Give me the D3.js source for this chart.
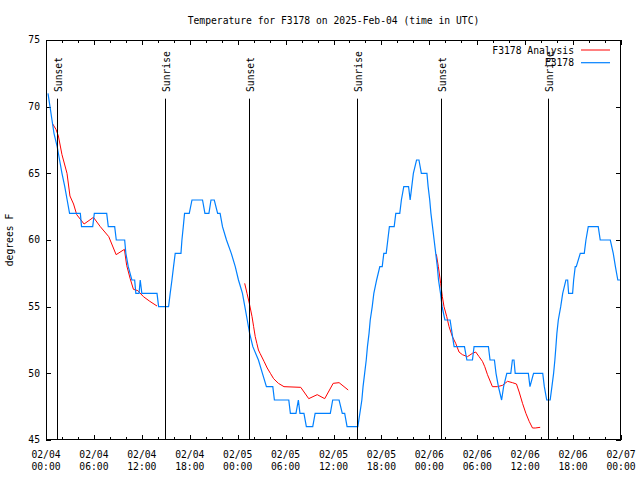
<!DOCTYPE html>
<html>
<head>
<meta charset="utf-8">
<script src="https://cdn.jsdelivr.net/npm/d3@7"></script>
<style>
  body { margin: 0; background: #fff; }
  text { font-family: "DejaVu Sans Mono", monospace; font-size: 9.7px; fill: #000; }
</style>
</head>
<body>
<div id="chart"></div>
<script>
// Chart size and plot box
const width = 640;
const height = 480;
const margin = {left: 46, right: 19, top: 40, bottom: 40};

// time is kept as hours after 2025-02-04 00:00 UTC
const start = Date.UTC(2025, 1, 4);
const toDate = h => new Date(start + h * 3600 * 1000);

const titleText = "Temperature for F3178 on 2025-Feb-04 (time in UTC)";
const yLabel = "degrees F";
const seriesNames = ["F3178 Analysis", "F3178"];
const seriesColors = ["#ff0000", "#0080ff"];

const yTicks = [45, 50, 55, 60, 65, 70, 75];
const majorHours = [0, 6, 12, 18, 24, 30, 36, 42, 48, 54, 60, 66, 72];
const minorHours = d3.range(0, 73, 2).filter(h => h % 6 !== 0);

// sun events (hours)
const sunsetHours = [1.35, 25.43, 49.45];
const sunriseHours = [14.84, 38.92, 62.88];

// observed temperature [hour, degF]
const observed = [
  [0.25,71],[0.5,70],[0.75,69],[1.0,68],[1.4,67],[1.7,66],[2.0,65],[2.35,64],[2.65,63],[2.95,62],
  [4.3,62],[4.45,61],[5.85,61],[6.05,62],[7.6,62],[7.8,61],[8.6,61],[8.8,60],[9.85,60],[10.0,59],
  [10.3,58],[10.75,57],[11.1,57],[11.25,56],[11.65,56],[11.8,57],[12.0,56],[13.9,56],[14.1,55],[15.35,55],
  [15.55,56],[15.77,57],[15.97,58],[16.18,59],[16.9,59],[17.02,60],[17.19,61],[17.35,62],[17.94,62],[18.28,63],
  [19.6,63],[19.9,62],[20.4,62],[20.66,63],[21.07,63],[21.49,62],[21.8,62],[22.1,61],[22.6,60],[23.2,59],
  [23.7,58],[24.1,57],[24.6,56],[24.9,55],[25.2,54],[25.5,53],[25.9,52],[26.6,51],[27.1,50],[27.6,49],
  [28.4,49],[28.6,48],[30.4,48],[30.6,47],[31.3,47],[31.6,48],[31.8,47],[32.3,47],[32.6,46],[33.4,46],
  [33.7,47],[35.6,47],[35.9,48],[36.7,48],[37.1,47],[37.4,47],[37.7,46],[39.05,46],
  [39.3,47],[39.55,48],[39.7,49],[39.9,50],[40.1,51],[40.25,52],[40.45,53],[40.6,54],[40.85,55],[41.05,56],
  [41.4,57],[41.8,58],[42.1,58],[42.3,59],[42.6,59],[42.8,60],[43.0,61],[43.6,61],[43.8,62],[44.3,62],
  [44.5,63],[44.8,64],[45.4,64],[45.6,63],[45.8,64],[46.0,65],[46.4,66],[46.7,66],[47.0,65],[47.7,65],
  [47.85,64],[48.05,63],[48.2,62],[48.4,61],[48.6,60],[48.8,59],[49.0,58],[49.15,57],[49.4,56],[49.6,55],
  [49.95,54],[50.6,54],[50.85,53],[51.1,52],[52.4,52],[52.7,51],[53.4,51],[53.6,52],[55.4,52],[55.6,51],
  [56.15,51],[56.35,50],[56.65,49],[57.05,48],[57.3,49],[57.7,50],[58.2,50],[58.4,51],[58.6,51],[58.75,50],
  [60.4,50],[60.6,49],[61.05,50],[62.2,50],[62.4,49],[62.7,48],[63.13,48],
  [63.35,49],[63.56,50],[63.72,51],[63.85,52],[63.97,53],[64.15,54],[64.45,55],[64.7,56],[65.1,57],[65.32,57],
  [65.44,56],[65.94,56],[66.07,57],[66.27,58],[66.4,58],[66.9,59],[67.4,59],[67.61,60],[67.9,61],[69.15,61],
  [69.4,60],[70.66,60],[71.03,59],[71.3,58],[71.6,57],[72,57]
];

// analysis temperature, three night runs [hour, degF]
const analysis1 = [
  [0.84,68.7],[1.25,68.3],[1.55,67.8],[2.0,66.4],[2.63,65.0],[3.0,63.3],[3.45,62.7],[3.85,61.9],[4.77,61.2],
  [5.94,61.7],[6.8,61.0],[7.86,60.25],[8.78,58.9],[9.82,59.3],[10.1,58.1],[10.54,57.1],[10.95,56.3],
  [11.5,56.2],[12.2,55.75],[13.0,55.4],[13.9,55.05]
];
const analysis2 = [
  [24.88,56.75],[25.17,56.0],[25.46,55.25],[25.8,54.25],[26.0,53.5],[26.2,52.75],[26.4,52.25],[26.6,51.75],
  [26.8,51.5],[27.3,50.9],[27.7,50.4],[28.1,50.0],[28.5,49.6],[29.1,49.25],[29.8,49.0],[31.9,48.95],
  [32.9,48.1],[33.96,48.4],[34.9,48.1],[35.96,49.25],[36.7,49.3],[37.84,48.75]
];
const analysis3 = [
  [48.88,58.93],[49.13,58.0],[49.42,56.75],[49.63,55.75],[49.84,55.0],[50.18,54.25],[50.47,53.5],[50.89,52.75],
  [51.3,52.25],[51.72,51.6],[52.14,51.4],[52.77,51.25],[53.4,51.5],[53.81,51.6],[54.23,51.25],[54.65,50.9],
  [54.94,50.5],[55.28,49.9],[55.9,49.0],[56.53,49.0],[57.16,49.1],[57.79,49.4],[58.41,49.3],[58.91,49.2],
  [59.25,48.6],[59.67,47.75],[60.09,47.0],[60.5,46.4],[60.92,45.9],[61.26,45.9],[61.88,45.95]
];

const svg = d3.select("#chart")
  .append("svg")
  .attr("width", width)
  .attr("height", height);

// scales
const xScale = d3.scaleUtc()
  .domain([toDate(0), toDate(72)])
  .range([margin.left, width - margin.right]);
const yScale = d3.scaleLinear()
  .domain([45, 75])
  .range([height - margin.bottom, margin.top]);

const plotBottom = height - margin.bottom;

// axes: ticks point inward, on all four sides
function noDomain(g) { g.select(".domain").remove(); }

svg.append("g")
  .attr("transform", `translate(0,${plotBottom})`)
  .call(d3.axisBottom(xScale).tickValues(majorHours.map(toDate)).tickSize(-5).tickFormat(""))
  .call(noDomain);
svg.append("g")
  .attr("transform", `translate(0,${plotBottom})`)
  .call(d3.axisBottom(xScale).tickValues(minorHours.map(toDate)).tickSize(-3).tickFormat(""))
  .call(noDomain);
svg.append("g")
  .attr("transform", `translate(0,${margin.top})`)
  .call(d3.axisTop(xScale).tickValues(majorHours.map(toDate)).tickSize(-5).tickFormat(""))
  .call(noDomain);
svg.append("g")
  .attr("transform", `translate(0,${margin.top})`)
  .call(d3.axisTop(xScale).tickValues(minorHours.map(toDate)).tickSize(-3).tickFormat(""))
  .call(noDomain);
svg.append("g")
  .attr("transform", `translate(${margin.left},0)`)
  .call(d3.axisLeft(yScale).tickValues(yTicks).tickSize(-5).tickFormat(""))
  .call(noDomain);
svg.append("g")
  .attr("transform", `translate(${width - margin.right},0)`)
  .call(d3.axisRight(yScale).tickValues(yTicks).tickSize(-5).tickFormat(""))
  .call(noDomain);
svg.selectAll(".tick line").attr("stroke", "#000").attr("shape-rendering", "crispEdges");

// y tick labels
svg.selectAll(".ylab")
  .data(yTicks)
  .enter()
  .append("text")
    .attr("x", margin.left - 6)
    .attr("y", d => yScale(d))
    .attr("dy", "0.35em")
    .attr("text-anchor", "end")
    .text(d => d);

// x tick labels, two lines
const fmtDay = d3.utcFormat("%m/%d");
const fmtTime = d3.utcFormat("%H:%M");
const xl = svg.selectAll(".xlab")
  .data(majorHours.map(toDate))
  .enter()
  .append("text")
    .attr("text-anchor", "middle");
xl.append("tspan").attr("x", d => xScale(d)).attr("y", plotBottom + 17.5).text(fmtDay);
xl.append("tspan").attr("x", d => xScale(d)).attr("y", plotBottom + 29.5).text(fmtTime);

// series
const line = d3.line()
  .x(d => xScale(toDate(d[0])))
  .y(d => yScale(d[1]));

[analysis1, analysis2, analysis3].forEach(run => {
  svg.append("path")
    .datum(run)
    .attr("fill", "none")
    .attr("stroke", seriesColors[0])
    .attr("stroke-width", 1)
    .attr("d", line);
});

svg.append("path")
  .datum(observed)
  .attr("fill", "none")
  .attr("stroke", seriesColors[1])
  .attr("stroke-width", 1.2)
  .attr("d", line);

// sunrise / sunset markers
const sunEvents = sunsetHours.map(h => ({h: h, name: "Sunset"}))
  .concat(sunriseHours.map(h => ({h: h, name: "Sunrise"})));

svg.selectAll(".sunline")
  .data(sunEvents)
  .enter()
  .append("line")
    .attr("x1", d => Math.round(xScale(toDate(d.h))) + 0.5)
    .attr("x2", d => Math.round(xScale(toDate(d.h))) + 0.5)
    .attr("y1", yScale(70.6))
    .attr("y2", plotBottom)
    .attr("stroke", "#000")
    .attr("stroke-width", 1);

svg.selectAll(".sunlab")
  .data(sunEvents)
  .enter()
  .append("text")
    .attr("transform", d => `translate(${xScale(toDate(d.h)) + 5},92) rotate(-90)`)
    .text(d => d.name);

// frame
svg.append("rect")
  .attr("x", margin.left + 0.5)
  .attr("y", margin.top + 0.5)
  .attr("width", width - margin.left - margin.right - 1)
  .attr("height", height - margin.top - margin.bottom - 1)
  .attr("fill", "none")
  .attr("stroke", "#000")
  .attr("shape-rendering", "crispEdges");

// legend
seriesNames.forEach((name, i) => {
  const ly = 50 + i * 12.7;
  svg.append("text")
    .attr("x", 574)
    .attr("y", ly + 3.5)
    .attr("text-anchor", "end")
    .text(name);
  svg.append("line")
    .attr("x1", 581).attr("x2", 610)
    .attr("y1", ly).attr("y2", ly)
    .attr("stroke", seriesColors[i])
    .attr("stroke-width", i === 0 ? 1 : 1.2);
});

// title and y label
svg.append("text")
  .attr("x", (margin.left + width - margin.right) / 2)
  .attr("y", 23.5)
  .attr("text-anchor", "middle")
  .text(titleText);

svg.append("text")
  .attr("transform", `translate(13,${(margin.top + plotBottom) / 2}) rotate(-90)`)
  .attr("text-anchor", "middle")
  .text(yLabel);
</script>
</body>
</html>
